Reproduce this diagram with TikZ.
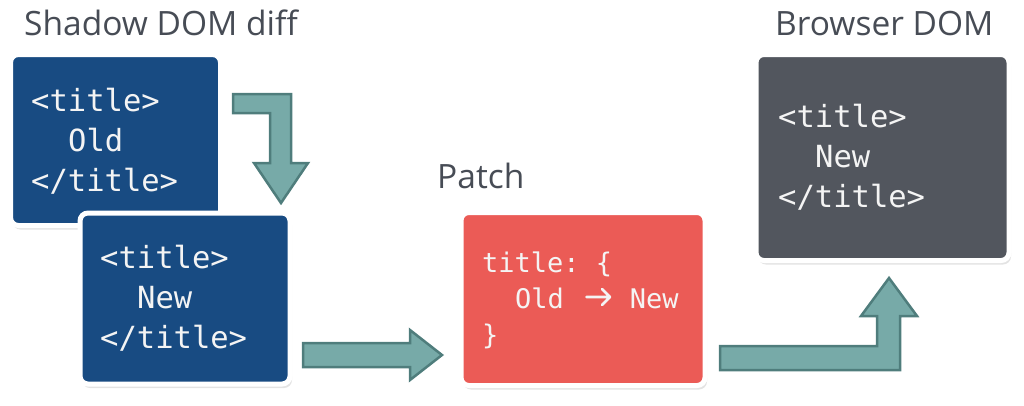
\documentclass[tikz,border=0pt]{standalone}
\usepackage{fontspec}
\setmainfont{Open Sans}
\setmonofont{DejaVu Sans Mono}
\usetikzlibrary{shadows}
\definecolor{boxblue}{HTML}{184B82}
\definecolor{boxred}{HTML}{EB5B56}
\definecolor{boxgrey}{HTML}{52565E}
\definecolor{arrfill}{HTML}{77AAA8}
\definecolor{arrdraw}{HTML}{4F7D7C}
\definecolor{titlegrey}{HTML}{474C55}
\definecolor{codewhite}{HTML}{F4F4F4}
\tikzset{
  card/.style={draw=white, line width=5pt, rounded corners=8pt, anchor=north west,
    inner sep=0pt, outer sep=0pt,
    drop shadow={opacity=0.22, shadow xshift=2pt, shadow yshift=-4pt}},
  code/.style={anchor=base west, inner sep=0pt, text=codewhite,
    font=\ttfamily\fontsize{30.5}{36}\selectfont},
  smallcode/.style={code, font=\ttfamily\fontsize{27}{32}\selectfont},
  heading/.style={anchor=base west, inner sep=0pt, text=titlegrey,
    font=\fontsize{33.5}{40}\selectfont},
  blockarrow/.style={fill=arrfill, draw=arrdraw, line width=2.5pt, line join=miter}
}
\newcommand{\codearrow}{\tikz[baseline=0pt,x=1pt,y=1pt]{%
  \useasboundingbox (0,0) rectangle (27,20);
  \draw[codewhite,line width=2.6pt,line cap=round,line join=round]
    (1.5,11) -- (25,11) (17,19) -- (25,11) -- (17,3);}}
\begin{document}
\begin{tikzpicture}[x=1pt,y=-1pt]
\useasboundingbox (0,0) rectangle (1024,405);
% headings
\node[heading] (h1) at (24,35) {Shadow DOM diff};
\node[heading] (h2) at (437,188) {Patch};
\node[heading] (h3) at (775,35) {Browser DOM};
% boxes
\node[card, fill=boxblue, minimum width=210pt, minimum height=171pt] (old) at (10.5,54.5) {};
\node[card, fill=boxblue, minimum width=210pt, minimum height=171pt] (new) at (80,213) {};
\node[card, fill=boxred, minimum width=244pt, minimum height=173pt] (patch) at (461,212.5) {};
\node[card, fill=boxgrey, minimum width=253pt, minimum height=206pt] (dom) at (756,54.5) {};
% code text
\node[code] (o1) at (31,111) {<title>};
\node[code] (o2) at (68,151) {Old};
\node[code] (o3) at (31,191) {</title>};
\node[code] (n1) at (100,268) {<title>};
\node[code] (n2) at (137,308) {New};
\node[code] (n3) at (100,348) {</title>};
\node[smallcode] (p1) at (482,272) {title: \{};
\node[smallcode] (p2) at (515,308) {Old\hspace{21pt}\codearrow\hspace{18pt}New};
\node[smallcode] (p3) at (482,344) {\}};
\node[code] (d1) at (778,127) {<title>};
\node[code] (d2) at (815,167) {New};
\node[code] (d3) at (778,207) {</title>};
% block arrows
\draw[blockarrow] (233,94) -- (291,94) -- (291,163) -- (308,163) -- (281,203)
  -- (254,163) -- (270,163) -- (270,113) -- (233,113) -- cycle;
\draw[blockarrow] (303,343) -- (410,343) -- (410,330) -- (442,355) -- (410,380)
  -- (410,367) -- (303,367) -- cycle;
\draw[blockarrow] (720,346) -- (877,346) -- (877,316) -- (861,316) -- (889,278)
  -- (917,316) -- (900,316) -- (900,370) -- (720,370) -- cycle;
\end{tikzpicture}
\end{document}
